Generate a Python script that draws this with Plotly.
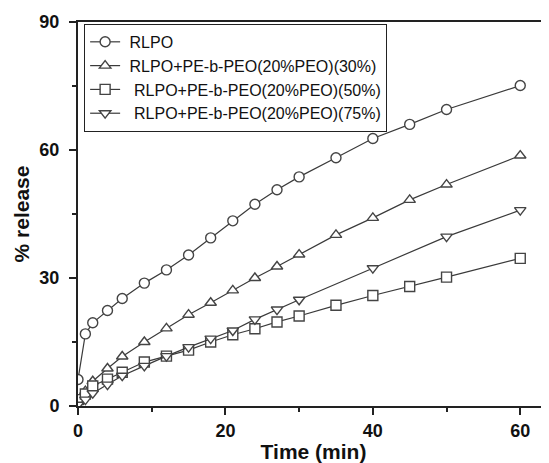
import plotly.graph_objects as go

# Data
x_rlpo = [0, 1, 2, 4, 6, 9, 12, 15, 18, 21, 24, 27, 30, 35, 40, 45, 50, 60]
y_rlpo = [6.2, 16.9, 19.5, 22.4, 25.2, 28.8, 31.9, 35.4, 39.4, 43.4, 47.3, 50.7, 53.7, 58.2, 62.7, 66.0, 69.5, 75.1]

x_30 = [0, 1, 2, 4, 6, 9, 12, 15, 18, 21, 24, 27, 30, 35, 40, 45, 50, 60]
y_30 = [1.0, 3.5, 5.8, 8.8, 11.6, 15.0, 18.2, 21.4, 24.2, 27.1, 30.0, 32.7, 35.5, 40.1, 44.1, 48.3, 51.9, 58.7]

x_50 = [0, 1, 2, 4, 6, 9, 12, 15, 18, 21, 24, 27, 30, 35, 40, 45, 50, 60]
y_50 = [1.5, 2.8, 4.7, 6.3, 7.9, 10.3, 11.7, 13.1, 15.0, 16.7, 18.1, 19.7, 21.1, 23.6, 25.9, 28.0, 30.2, 34.6]

x_75 = [0, 1, 2, 4, 6, 9, 12, 15, 18, 21, 24, 27, 30, 40, 50, 60]
y_75 = [0.3, 1.5, 3.0, 5.0, 7.1, 9.4, 11.7, 13.8, 15.8, 17.7, 20.3, 22.6, 24.9, 32.3, 39.7, 45.9]

names = ["RLPO",
         "RLPO+PE-b-PEO(20%PEO)(30%)",
         "\u00a0RLPO+PE-b-PEO(20%PEO)(50%)",
         "\u00a0RLPO+PE-b-PEO(20%PEO)(75%)"]
symbols = ["circle", "triangle-up", "square", "triangle-down"]

LINE = "#3a3a3a"
MK = "#444444"

fig = go.Figure()
series = [(x_rlpo, y_rlpo), (x_30, y_30), (x_50, y_50), (x_75, y_75)]
for (xs, ys), nm, sym in zip(series, names, symbols):
    fig.add_trace(go.Scatter(
        x=xs, y=ys, name="\u00a0" + nm, mode="lines+markers",
        line=dict(color=LINE, width=1.2),
        marker=dict(symbol=sym, size=10, color="white",
                    line=dict(color=MK, width=1.4)),
    ))

tickfont = dict(family="Liberation Sans, Arial, sans-serif", size=18, color="#111")
titlefont = dict(family="Liberation Sans, Arial, sans-serif", size=21, color="#111")

# page body has an 8px margin, so the figure is 8px smaller and shifted
fig.update_layout(
    width=541, height=455,
    margin=dict(l=70, r=0, t=14, b=56.5),
    paper_bgcolor="white", plot_bgcolor="white",
    showlegend=True,
    legend=dict(
        x=0.013, y=0.995, xanchor="left", yanchor="top",
        bgcolor="white", bordercolor="#222", borderwidth=1,
        font=dict(family="Liberation Sans, Arial, sans-serif", size=16, color="#111"),
        itemwidth=30, tracegroupgap=0,
    ),
    xaxis=dict(
        range=[0, 63.9], tickvals=[0, 20, 40, 60],
        ticks="outside", ticklen=7, tickwidth=2, tickcolor="#222",
        minor=dict(tickvals=[10, 30, 50], ticks="outside", ticklen=4, tickwidth=2, tickcolor="#222"),
        showline=True, linecolor="#222", linewidth=2, mirror=True,
        showgrid=False, zeroline=False,
        tickfont=dict(**tickfont, weight="bold"),
        title=dict(text="<b>Time (min)</b>", font=titlefont, standoff=0),
        automargin=False,
    ),
    yaxis=dict(
        range=[0, 90], tickvals=[0, 30, 60, 90],
        ticks="outside", ticklen=7, tickwidth=2, tickcolor="#222",
        minor=dict(tickvals=[15, 45, 75], ticks="outside", ticklen=4, tickwidth=2, tickcolor="#222"),
        showline=True, linecolor="#222", linewidth=2, mirror=False,
        showgrid=False, zeroline=False,
        tickfont=dict(**tickfont, weight="bold"),
        ticklabelstandoff=6,
        title=dict(text="<b>% release</b>", font=titlefont, standoff=4),
        automargin=False,
    ),
)

fig.write_html("out.html")
